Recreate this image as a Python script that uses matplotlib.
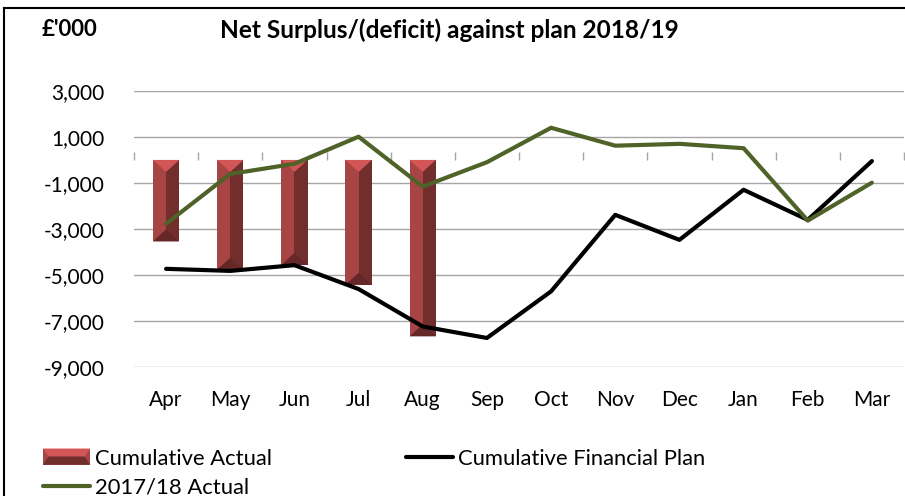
import numpy as np
import matplotlib.pyplot as plt
from matplotlib.patches import Polygon, Rectangle
from matplotlib.lines import Line2D
from matplotlib.legend_handler import HandlerBase

plt.rcParams['font.family'] = ['Lato', 'DejaVu Sans']

months = ['Apr', 'May', 'Jun', 'Jul', 'Aug', 'Sep', 'Oct', 'Nov', 'Dec', 'Jan', 'Feb', 'Mar']
cum_actual = [-3550, -4780, -4570, -5430, -7680]
cum_plan = [-4740, -4830, -4580, -5620, -7250, -7750, -5720, -2390, -3480, -1300, -2610, -50]
prior_actual = [-2780, -610, -170, 1010, -1160, -100, 1400, 620, 700, 510, -2640, -990]

RED_TOP = '#D35656'
RED_LEFT = '#A84444'
RED_RIGHT = '#722D2D'
RED_BOTTOM = '#652727'
GREEN = '#4F6228'
GRID = '#A6A6A6'


class BevelHandler(HandlerBase):
    # legend key drawn as a small bevelled block
    def create_artists(self, legend, orig_handle, xd, yd, w, h, fontsize, trans):
        b = h * 0.35
        base = Rectangle((xd, yd), w, h, facecolor=RED_LEFT, transform=trans)
        top = Polygon([(xd, yd + h), (xd + w, yd + h), (xd + w - b, yd + h / 2), (xd + b, yd + h / 2)],
                      facecolor=RED_TOP, transform=trans)
        bot = Polygon([(xd, yd), (xd + w, yd), (xd + w - b, yd + h / 2), (xd + b, yd + h / 2)],
                      facecolor=RED_RIGHT, transform=trans)
        return [base, top, bot]


fig = plt.figure(figsize=(9.05, 4.96), dpi=100)
ax = fig.add_axes([134 / 905, 1 - 366.7 / 496, 770 / 905, (366.7 - 91) / 496])

x = np.arange(len(months))
xa = x[:len(cum_actual)]
w = 0.41
ax.set_xlim(-0.5, len(months) - 0.5)
ax.set_ylim(-9000, 3000)

# bevel depth in data units (about half a bar width on screen)
ax_h_px = (366.7 - 91)
d = 12 * 12000 / ax_h_px

ax.bar(xa - w / 4, cum_actual, width=w / 2, color=RED_LEFT, zorder=2)
ax.bar(xa + w / 4, cum_actual, width=w / 2, color=RED_RIGHT, zorder=2)
for xi, v in zip(xa, cum_actual):
    ax.add_patch(Polygon([(xi - w / 2, 0), (xi + w / 2, 0), (xi, -d)], facecolor=RED_TOP, zorder=2.1))
    ax.add_patch(Polygon([(xi - w / 2, v), (xi + w / 2, v), (xi, v + d)], facecolor=RED_BOTTOM, zorder=2.1))

ax.plot(x, cum_plan, color='black', lw=3, solid_capstyle='round', zorder=3)
ax.plot(x, prior_actual, color=GREEN, lw=3, solid_capstyle='round', zorder=3)

ax.set_yticks(np.arange(-9000, 3001, 2000))
ax.set_yticklabels([f'{v:,}' for v in np.arange(-9000, 3001, 2000)])
ax.grid(axis='y', color=GRID, lw=1)
ax.set_axisbelow(True)
for s in ax.spines.values():
    s.set_visible(False)
ax.set_xticks(x)
ax.set_xticklabels(months)
ax.tick_params(axis='x', length=0, pad=16.5, labelsize=15)
ax.tick_params(axis='y', length=0, pad=21, labelsize=15)

# category axis crossing at zero
zax = ax.secondary_xaxis(9000 / 12000)
zax.set_xticks(np.arange(len(months) + 1) - 0.5)
zax.set_xticklabels([])
zax.tick_params(axis='x', direction='out', length=6, color=GRID, width=1)
zax.spines['bottom'].set_color(GRID)
zax.spines['top'].set_visible(False)
for k in ('left', 'right'):
    if k in zax.spines:
        zax.spines[k].set_visible(False)

fig.text(449 / 905, 1 - 30 / 496, 'Net Surplus/(deficit) against plan 2018/19',
         ha='center', va='center', fontsize=17.6, fontweight='bold')
fig.text(69.5 / 905, 1 - 30 / 496, "£'000", ha='center', va='center', fontsize=16, fontweight='bold')

h_bar = Rectangle((0, 0), 1, 1)
h_green = Line2D([], [], color=GREEN, lw=3, solid_capstyle='round')
h_black = Line2D([], [], color='black', lw=3, solid_capstyle='round')
fig.legend([h_bar, h_green, h_black], ['Cumulative Actual', '2017/18 Actual', 'Cumulative Financial Plan'],
           handler_map={Rectangle: BevelHandler()}, ncol=2, loc='upper left',
           bbox_to_anchor=(43 / 905, 1 - 449 / 496), frameon=False, fontsize=15.8,
           borderpad=0, borderaxespad=0, handlelength=2.15, handletextpad=0.23,
           columnspacing=6.1, labelspacing=0.39, handleheight=0.75)

# outer frame
fig.add_artist(Line2D([4 / 905, 4 / 905], [0, 1 - 8 / 496], color='black', lw=1.5, transform=fig.transFigure))
fig.add_artist(Line2D([4 / 905, 1], [1 - 8 / 496, 1 - 8 / 496], color='black', lw=1.5, transform=fig.transFigure))

fig.savefig('out.png', dpi=100)
